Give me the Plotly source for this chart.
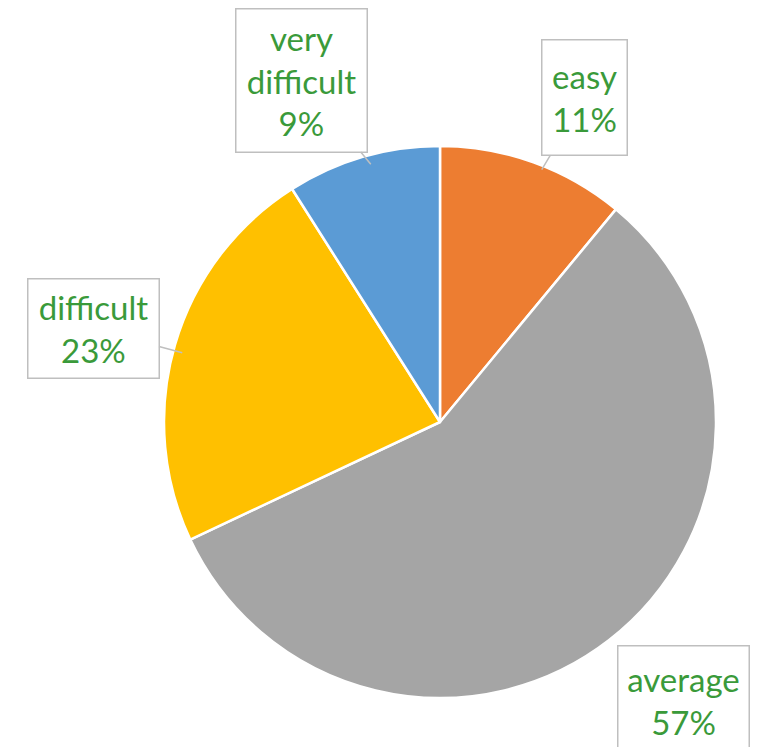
import math
import plotly.graph_objects as go

categories = ["easy", "average", "difficult", "very difficult"]
values = [11, 57, 23, 9]
label_text = ["easy<br>11%", "average<br>57%", "difficult<br>23%", "very<br>difficult<br>9%"]
colors = ["#ED7D31", "#A5A5A5", "#FFC000", "#5B9BD5"]

W, H = 769, 747
cx, cy, R = 440, 422, 274  # pie center & radius in pixels
# plotly places the pie slightly off; compensate
dx, dy, dr = -8, -8, 2

# callout box centre offsets from the slice tip (pixels) and box sizes
offsets = [(43, -72), (66, 52), (-89, -24), (-69, -84)]
box_sizes = [(82, 112), (128, 106), (128, 96), (128, 140)]

fig = go.Figure(go.Pie(
    labels=categories, values=values, sort=False, direction="clockwise", rotation=0,
    marker=dict(colors=colors, line=dict(color="white", width=2.5)),
    textinfo="none", showlegend=False,
    domain=dict(x=[(cx + dx - R - dr) / W, (cx + dx + R + dr) / W],
                y=[1 - (cy + dy + R + dr) / H, 1 - (cy + dy - R - dr) / H]),
))

total = sum(values)
cum = 0
annotations = []
for i, v in enumerate(values):
    mid = (cum + v / 2) / total * 2 * math.pi
    cum += v
    tx = cx + R * 1.01 * math.sin(mid)
    ty = cy - R * 1.01 * math.cos(mid)
    ax, ay = offsets[i]
    bw, bh = box_sizes[i]
    annotations.append(dict(
        x=tx / W, y=1 - ty / H, xref="paper", yref="paper",
        text=label_text[i], showarrow=True, arrowhead=0, arrowwidth=1.5,
        arrowcolor="#BFBFBF", ax=ax, ay=ay, axref="pixel", ayref="pixel",
        bgcolor="white", bordercolor="#BFBFBF", borderwidth=1.5,
        width=bw, height=bh, align="center", valign="middle",
        font=dict(family="Lato, sans-serif", size=33, color="#3A9A3A"),
    ))

fig.update_layout(
    width=W, height=H, margin=dict(l=0, r=0, t=0, b=0),
    paper_bgcolor="white", plot_bgcolor="white",
    annotations=annotations,
)
fig.write_html("out.html")
